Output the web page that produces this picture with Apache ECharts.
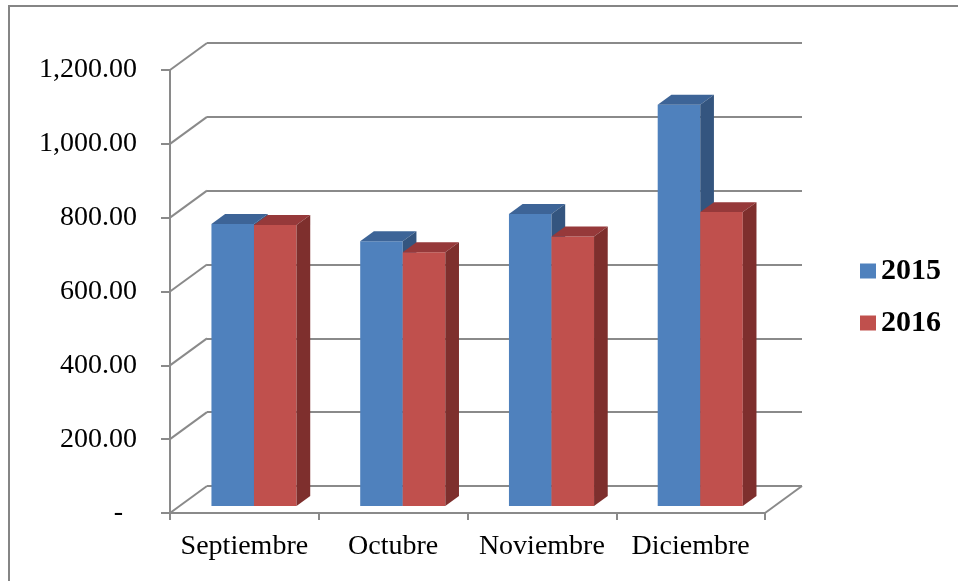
<!DOCTYPE html>
<html>
<head>
<meta charset="utf-8">
<style>
  html, body { margin: 0; padding: 0; background: #fff; }
  #main { width: 958px; height: 581px; }
</style>
<script src="https://cdn.jsdelivr.net/npm/echarts@6/dist/echarts.min.js"></script>
</head>
<body>
<div id="main"></div>
<script>
const categories = ["Septiembre", "Octubre", "Noviembre", "Diciembre"];
const values2015 = [764, 717, 791, 1087];
const values2016 = [761, 687, 730, 796];
const yTicks = [0, 200, 400, 600, 800, 1000, 1200];

// oblique depth of the 3d box (back wall offset from front plane)
const DEPTH_X = 37;
const DEPTH_Y = -27;
const BAR_FRONT = 0.26; // where the bar front face sits in the depth
const BAR_DEPTH = 0.37; // how deep the bars are
const GRID_COLOR = "#8a8a8a";

const colors = {
  "2015": { front: "#4f81bd", top: "#3d6497", side: "#34557f" },
  "2016": { front: "#c0504d", top: "#96393a", side: "#7e2f2d" },
};

function fmtValue(v) {
  if (v === 0) return "-  ";
  return v.toLocaleString("en-US", { minimumFractionDigits: 2, maximumFractionDigits: 2 });
}

function barRenderer(slot) {
  return function (params, api) {
    const cat = api.value(0);
    const val = api.value(1);
    const base = api.coord([cat, 0]);
    const top = api.coord([cat, val]);
    const catW = api.size([1, 0])[0];
    const barW = catW * 0.286;
    const fx = DEPTH_X * BAR_FRONT, fy = DEPTH_Y * BAR_FRONT;
    const dx = DEPTH_X * BAR_DEPTH, dy = DEPTH_Y * BAR_DEPTH;
    const x0 = base[0] - barW + slot * barW + fx;
    const x1 = x0 + barW;
    const yb = base[1] + fy;
    const yt = top[1] + fy;
    const c = colors[params.seriesName];
    return {
      type: "group",
      children: [
        { type: "polygon", shape: { points: [[x0, yt], [x1, yt], [x1, yb], [x0, yb]] }, style: { fill: c.front } },
        { type: "polygon", shape: { points: [[x0, yt], [x1, yt], [x1 + dx, yt + dy], [x0 + dx, yt + dy]] }, style: { fill: c.top } },
        { type: "polygon", shape: { points: [[x1, yt], [x1 + dx, yt + dy], [x1 + dx, yb + dy], [x1, yb]] }, style: { fill: c.side } },
      ],
    };
  };
}

function wallRenderer(side) {
  return function (params, api) {
    const p = api.coord([api.value(0), api.value(1)]);
    const catW = api.size([1, 0])[0];
    const x = side === "left" ? p[0] - catW / 2 : p[0] + catW / 2;
    return {
      type: "line",
      shape: { x1: x, y1: p[1], x2: x + DEPTH_X, y2: p[1] + DEPTH_Y },
      style: { stroke: GRID_COLOR, lineWidth: 2 },
    };
  };
}

const fontFamily = "'Liberation Serif', 'Times New Roman', serif";

const option = {
  animation: false,
  backgroundColor: "#fff",
  graphic: [
    {
      type: "rect",
      shape: { x: 9, y: 6, width: 1000, height: 1000 },
      style: { fill: "none", stroke: "#858585", lineWidth: 2 },
      z: -1,
    },
  ],
  legend: {
    data: ["2015", "2016"],
    orient: "vertical",
    left: 855,
    top: 251,
    itemWidth: 16,
    itemHeight: 15,
    itemGap: 22,
    icon: "rect",
    textStyle: { fontFamily, fontSize: 30, fontWeight: "bold", color: "#000" },
  },
  grid: [
    { left: 170, right: 193, top: 70, bottom: 68 },
    { left: 170 + DEPTH_X, right: 193 - DEPTH_X, top: 70 + DEPTH_Y, bottom: 68 - DEPTH_Y },
  ],
  xAxis: [
    {
      gridIndex: 0,
      type: "category",
      data: categories,
      axisLine: { lineStyle: { color: GRID_COLOR, width: 2 } },
      axisTick: { show: true, interval: 0, alignWithLabel: false, length: 7, lineStyle: { color: GRID_COLOR, width: 2 } },
      axisLabel: { interval: 0, fontFamily, fontSize: 28, color: "#000", margin: 20 },
    },
    {
      gridIndex: 1,
      type: "category",
      data: categories,
      show: false,
    },
  ],
  yAxis: [
    {
      gridIndex: 0,
      type: "value",
      min: 0,
      max: 1200,
      interval: 200,
      axisLine: { show: true, lineStyle: { color: GRID_COLOR, width: 2 } },
      axisTick: { show: true, length: 9, lineStyle: { color: GRID_COLOR, width: 2 } },
      axisLabel: { fontFamily, fontSize: 28, color: "#000", margin: 33, formatter: fmtValue },
      splitLine: { show: false },
    },
    {
      gridIndex: 1,
      type: "value",
      min: 0,
      max: 1200,
      interval: 200,
      axisLine: { show: false },
      axisTick: { show: false },
      axisLabel: { show: false },
      splitLine: { show: true, lineStyle: { color: GRID_COLOR, width: 2 } },
    },
  ],
  series: [
    {
      name: "walls",
      type: "custom",
      xAxisIndex: 0,
      yAxisIndex: 0,
      renderItem: wallRenderer("left"),
      data: yTicks.map((v) => [0, v]),
      silent: true,
      z: 1,
    },
    {
      name: "floor",
      type: "custom",
      xAxisIndex: 0,
      yAxisIndex: 0,
      renderItem: wallRenderer("right"),
      data: [[categories.length - 1, 0]],
      silent: true,
      z: 1,
    },
    {
      name: "2015",
      type: "custom",
      xAxisIndex: 0,
      yAxisIndex: 0,
      itemStyle: { color: colors["2015"].front },
      renderItem: barRenderer(0),
      encode: { x: 0, y: 1 },
      data: values2015.map((v, i) => [i, v]),
      z: 3,
    },
    {
      name: "2016",
      type: "custom",
      xAxisIndex: 0,
      yAxisIndex: 0,
      itemStyle: { color: colors["2016"].front },
      renderItem: barRenderer(1),
      encode: { x: 0, y: 1 },
      data: values2016.map((v, i) => [i, v]),
      z: 4,
    },
  ],
};

const chart = echarts.init(document.getElementById("main"));
chart.setOption(option);
</script>
</body>
</html>
